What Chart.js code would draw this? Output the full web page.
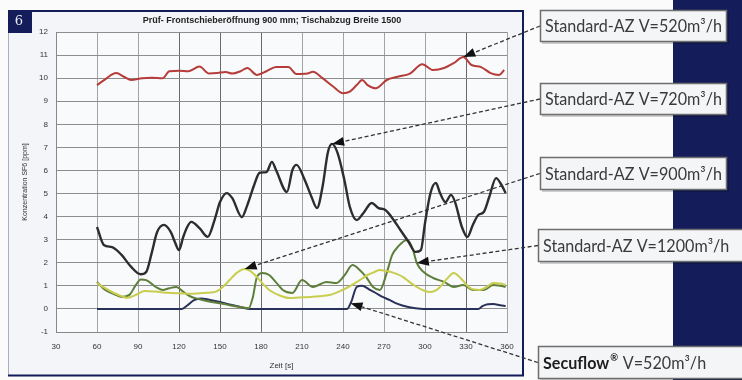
<!DOCTYPE html>
<html>
<head>
<meta charset="utf-8">
<script src="https://cdn.jsdelivr.net/npm/chart.js@4.4.1/dist/chart.umd.min.js"></script>
<style>
  html, body { margin: 0; padding: 0; background: #ffffff; }
  canvas { display: block; }
</style>
</head>
<body>
<canvas id="c" width="742" height="380"></canvas>
<script>
// Axis ranges and ticks
const xTicks = [30, 60, 90, 120, 150, 180, 210, 240, 270, 300, 330, 360];
const yTicks = [-1, 0, 1, 2, 3, 4, 5, 6, 7, 8, 9, 10, 11, 12];

// Standard-AZ V=520 m³/h
const t520 = [60, 66, 74, 80, 85, 93, 100, 108, 113, 120, 127, 135, 142, 148, 154, 159, 165, 170, 177, 184, 191, 200, 206, 214, 218, 225, 233, 240, 245, 250, 254, 258, 264, 272, 280, 289, 298, 306, 314, 321, 328, 334, 341, 348, 354, 358];
const v520 = [9.70, 9.95, 10.22, 10.05, 9.92, 10.0, 10.02, 10.0, 10.3, 10.32, 10.3, 10.5, 10.2, 10.22, 10.27, 10.2, 10.3, 10.44, 10.14, 10.3, 10.48, 10.48, 10.18, 10.2, 10.28, 10.0, 9.63, 9.35, 9.42, 9.7, 9.92, 9.7, 9.56, 9.92, 10.06, 10.2, 10.6, 10.35, 10.44, 10.65, 10.92, 10.57, 10.48, 10.22, 10.14, 10.35];

// Standard-AZ V=720 m³/h
const t720 = [60, 65, 71, 78, 85, 92, 96, 100, 104, 109, 114, 117, 120, 123, 126, 129, 135, 141, 146, 150, 155, 159, 166, 170, 175, 179, 184, 188, 191, 199, 203, 206, 212, 217, 221, 225, 229, 232, 236, 241, 245, 250, 255, 261, 266, 271, 276, 282, 288, 293, 297, 300, 304, 308, 311, 315, 319, 322, 327, 331, 335, 339, 343, 347, 352, 356, 359];
const v720 = [3.55, 2.77, 2.68, 2.34, 1.82, 1.5, 1.6, 2.42, 3.33, 3.64, 3.33, 2.9, 2.55, 3.1, 3.55, 3.77, 3.5, 3.12, 3.85, 4.63, 5.02, 4.8, 3.98, 4.5, 5.37, 5.9, 5.93, 6.37, 6.02, 5.07, 6.02, 6.24, 5.59, 4.85, 4.37, 5.28, 6.8, 7.15, 6.76, 5.59, 4.42, 3.85, 4.16, 4.59, 4.37, 4.29, 3.94, 3.42, 2.9, 2.47, 2.55, 3.72, 5.02, 5.46, 5.02, 4.63, 4.94, 4.63, 3.55, 3.12, 3.64, 4.07, 4.2, 4.85, 5.67, 5.37, 5.02];

// Standard-AZ V=900 m³/h
const t900 = [60, 66, 72, 78, 82, 88, 95, 103, 112, 120, 130, 140, 147, 152, 157, 162, 168, 172, 177, 182, 186, 193, 201, 208, 216, 223, 230, 237, 244, 251, 258, 263, 267, 271, 275, 280, 284, 289, 294, 299, 304, 308, 311, 316, 321, 326, 333, 340, 345, 350, 355, 359];
const v900 = [1.12, 0.9, 0.7, 0.55, 0.48, 0.6, 0.78, 0.75, 0.7, 0.68, 0.66, 0.7, 0.75, 0.95, 1.25, 1.55, 1.73, 1.65, 1.38, 1.05, 0.82, 0.6, 0.47, 0.5, 0.52, 0.55, 0.6, 0.75, 0.95, 1.2, 1.47, 1.6, 1.69, 1.65, 1.6, 1.5, 1.38, 1.15, 0.95, 0.8, 0.73, 0.8, 0.95, 1.3, 1.56, 1.34, 0.9, 0.82, 0.95, 1.12, 1.1, 1.04];

// Standard-AZ V=1200 m³/h
const t1200 = [60, 66, 72, 78, 84, 88, 92, 96, 103, 108, 113, 118, 123, 128, 135, 142, 150, 158, 165, 171, 174, 177, 181, 186, 191, 196, 203, 210, 218, 228, 235, 241, 247, 252, 257, 262, 267, 272, 276, 280, 287, 291, 294, 299, 306, 314, 321, 328, 335, 343, 350, 355, 359];
const v1200 = [1.17, 0.82, 0.65, 0.52, 0.62, 1.0, 1.28, 1.25, 0.95, 0.82, 0.9, 0.95, 0.75, 0.55, 0.42, 0.32, 0.25, 0.15, 0.08, 0.03, 0.5, 1.38, 1.56, 1.47, 1.15, 0.82, 0.69, 1.25, 0.95, 1.17, 1.12, 1.45, 1.9, 1.7, 1.38, 0.95, 0.82, 1.56, 2.34, 2.68, 3.0, 2.6, 1.99, 1.6, 1.34, 1.17, 0.95, 1.04, 0.82, 0.82, 1.04, 1.0, 0.95];

// Secuflow® V=520 m³/h
const tSecu = [60, 122, 126, 131, 136, 142, 150, 158, 165, 172, 243, 246, 250, 254, 259, 264, 269, 274, 280, 287, 293, 299, 339, 342, 346, 350, 355, 359];
const vSecu = [0, 0, 0.15, 0.38, 0.45, 0.4, 0.3, 0.18, 0.08, 0, 0, 0.3, 0.95, 1.0, 0.85, 0.69, 0.52, 0.39, 0.22, 0.09, 0.03, 0, 0, 0.12, 0.2, 0.21, 0.16, 0.13];

// Callout labels and the time each arrow points at on its curve
const calloutLabels = ['Standard-AZ V=520m³/h', 'Standard-AZ V=720m³/h', 'Standard-AZ V=900m³/h', 'Standard-AZ V=1200m³/h', 'V=520m³/h'];
const calloutTimes = [328, 232, 168, 294, 245.5];

const chartTitle = 'Prüf- Frontschieberöffnung 900 mm; Tischabzug Breite 1500';
const xTitle = 'Zeit [s]';
const yTitle = 'Konzentration SF6 [ppm]';

function pts(ts, vs) { return ts.map((t, i) => ({ x: t, y: vs[i] })); }
function valueAt(ts, vs, t) {
  for (let i = 0; i < ts.length - 1; i++) {
    if (t >= ts[i] && t <= ts[i + 1]) {
      const f = (t - ts[i]) / (ts[i + 1] - ts[i]);
      return vs[i] + f * (vs[i + 1] - vs[i]);
    }
  }
  return vs[vs.length - 1];
}

const series = [
  { t: t520, v: v520, color: '#b53c3a', width: 2 },
  { t: t720, v: v720, color: '#2d2d2d', width: 2.4 },
  { t: t900, v: v900, color: '#c9cd4e', width: 2 },
  { t: t1200, v: v1200, color: '#5e7f3b', width: 2 },
  { t: tSecu, v: vSecu, color: '#2a3159', width: 2 }
];

const NAVY = '#141d5a';

// Panel, frame, title and badge behind the plot
const backdrop = {
  id: 'backdrop',
  beforeDraw(chart) {
    const { ctx, chartArea: a } = chart;
    ctx.save();
    ctx.fillStyle = '#fbfbfc';
    ctx.fillRect(0, 0, chart.width, chart.height);
    // right navy column
    ctx.fillStyle = NAVY;
    ctx.fillRect(673, 0, 69, 380);
    // panel
    ctx.fillStyle = '#f3f5f8';
    ctx.fillRect(8, 10, 515, 366);
    ctx.fillStyle = '#f9fafb';
    ctx.fillRect(a.left, a.top, a.right - a.left, a.bottom - a.top);
    // panel frame
    ctx.strokeStyle = '#a9b0c4';
    ctx.lineWidth = 1;
    ctx.beginPath(); ctx.moveTo(8.5, 11); ctx.lineTo(8.5, 376); ctx.stroke();
    ctx.strokeStyle = NAVY;
    ctx.lineWidth = 2;
    ctx.beginPath();
    ctx.moveTo(8, 11); ctx.lineTo(523, 11); ctx.lineTo(523, 375.5); ctx.lineTo(8, 375.5);
    ctx.stroke();
    // badge
    ctx.fillStyle = NAVY;
    ctx.fillRect(8, 10, 24, 23);
    ctx.fillStyle = '#e8ecf6';
    ctx.font = '13px "DejaVu Serif", serif';
    ctx.textAlign = 'center';
    ctx.textBaseline = 'middle';
    ctx.fillText('6', 19, 22);
    // title
    ctx.fillStyle = '#222';
    ctx.font = 'bold 9px "Liberation Sans", Arial, sans-serif';
    ctx.fillText(chartTitle, 272, 21);
    ctx.restore();
  }
};

// Label boxes with dashed arrows pointing at each curve
const callouts = {
  id: 'callouts',
  afterDraw(chart) {
    const { ctx, scales: { x, y } } = chart;
    const boxes = [
      { x: 540, y: 10, w: 187, h: 32 },
      { x: 540, y: 83, w: 187, h: 32 },
      { x: 540, y: 157, w: 187, h: 33 },
      { x: 538, y: 229, w: 210, h: 33 },
      { x: 538, y: 346, w: 210, h: 33 }
    ];
    ctx.save();
    boxes.forEach((b, i) => {
      const s = series[i];
      const tt = calloutTimes[i];
      const tx = x.getPixelForValue(tt);
      const ty = y.getPixelForValue(valueAt(s.t, s.v, tt));
      const sx = b.x, sy = b.y + b.h / 2;
      const ang = Math.atan2(sy - ty, sx - tx);
      const ah = 12, aw = 4.5;
      const bx = tx + Math.cos(ang) * ah, by = ty + Math.sin(ang) * ah;
      // dashed leader
      ctx.strokeStyle = '#333';
      ctx.lineWidth = 1.3;
      ctx.setLineDash([4, 2.5]);
      ctx.beginPath(); ctx.moveTo(sx, sy); ctx.lineTo(bx, by); ctx.stroke();
      ctx.setLineDash([]);
      // arrow head
      ctx.fillStyle = '#111';
      ctx.beginPath();
      ctx.moveTo(tx, ty);
      ctx.lineTo(bx - Math.sin(ang) * aw, by + Math.cos(ang) * aw);
      ctx.lineTo(bx + Math.sin(ang) * aw, by - Math.cos(ang) * aw);
      ctx.closePath();
      ctx.fill();
    });

    // label text is set slightly condensed so it fits the boxes
    const size = 17;
    ctx.font = size + 'px Lato, sans-serif';
    const squeeze = 177 / ctx.measureText(calloutLabels[0]).width;

    boxes.forEach((b, i) => {
      ctx.fillStyle = 'rgba(0,0,0,0.18)';
      ctx.fillRect(b.x + 2, b.y + 2, b.w, b.h);
      ctx.fillStyle = '#f4f5f7';
      ctx.fillRect(b.x, b.y, b.w, b.h);
      ctx.strokeStyle = '#6e6e6e';
      ctx.lineWidth = 1.5;
      ctx.strokeRect(b.x + 0.5, b.y + 0.5, b.w - 1, b.h - 1);

      ctx.save();
      ctx.translate(b.x + 5, b.y + b.h / 2 + 1);
      ctx.scale(squeeze, 1);
      ctx.textAlign = 'left';
      ctx.textBaseline = 'middle';
      let tx = 0;
      if (i === 4) {
        ctx.font = 'bold ' + size + 'px Lato, sans-serif';
        ctx.fillStyle = '#1e1e1e';
        ctx.fillText('Secuflow', tx, 0);
        tx += ctx.measureText('Secuflow').width + 1;
        ctx.font = 'bold 10px Lato, sans-serif';
        ctx.fillText('®', tx, -6);
        tx += ctx.measureText('®').width + 5;
      }
      ctx.fillStyle = '#3a3a3a';
      ctx.font = size + 'px Lato, sans-serif';
      ctx.fillText(calloutLabels[i], tx, 0);
      ctx.restore();
    });
    ctx.restore();
  }
};

const tickFont = { family: '"Liberation Sans", Arial, sans-serif', size: 8 };
const darkX = [120, 150, 180, 330];

new Chart(document.getElementById('c'), {
  type: 'line',
  data: {
    datasets: series.map(s => ({
      data: pts(s.t, s.v),
      borderColor: s.color,
      borderWidth: s.width,
      pointRadius: 0,
      fill: false,
      cubicInterpolationMode: 'monotone'
    }))
  },
  options: {
    responsive: false,
    animation: false,
    devicePixelRatio: 1,
    layout: { padding: { left: 0, top: 32, right: 235, bottom: 0 } },
    plugins: { legend: { display: false }, tooltip: { enabled: false } },
    scales: {
      x: {
        type: 'linear',
        min: xTicks[0],
        max: xTicks[xTicks.length - 1],
        afterBuildTicks: s => { s.ticks = xTicks.map(v => ({ value: v })); },
        ticks: { font: tickFont, color: '#333', padding: 10, maxRotation: 0 },
        grid: {
          tickLength: 0,
          color: c => (c.tick && darkX.includes(c.tick.value)) ? '#6a6a6a' : '#a4a4a4',
          lineWidth: 1
        },
        border: { color: '#888' },
        title: { display: true, text: xTitle, font: { family: '"Liberation Sans", Arial, sans-serif', size: 8 }, color: '#333', padding: { top: 0, bottom: 9 } },
        afterFit: s => { s.height = 48; }
      },
      y: {
        min: yTicks[0],
        max: yTicks[yTicks.length - 1],
        afterBuildTicks: s => { s.ticks = yTicks.map(v => ({ value: v })); },
        ticks: { font: tickFont, color: '#333', padding: 8 },
        grid: { tickLength: 0, color: '#8e8e8e', lineWidth: 1 },
        border: { color: '#888' },
        title: { display: true, text: yTitle, font: { family: '"Liberation Sans", Arial, sans-serif', size: 7 }, color: '#333', padding: { top: 21, bottom: 0 } },
        afterFit: s => { s.width = 56; }
      }
    }
  },
  plugins: [backdrop, callouts]
});
</script>
</body>
</html>
